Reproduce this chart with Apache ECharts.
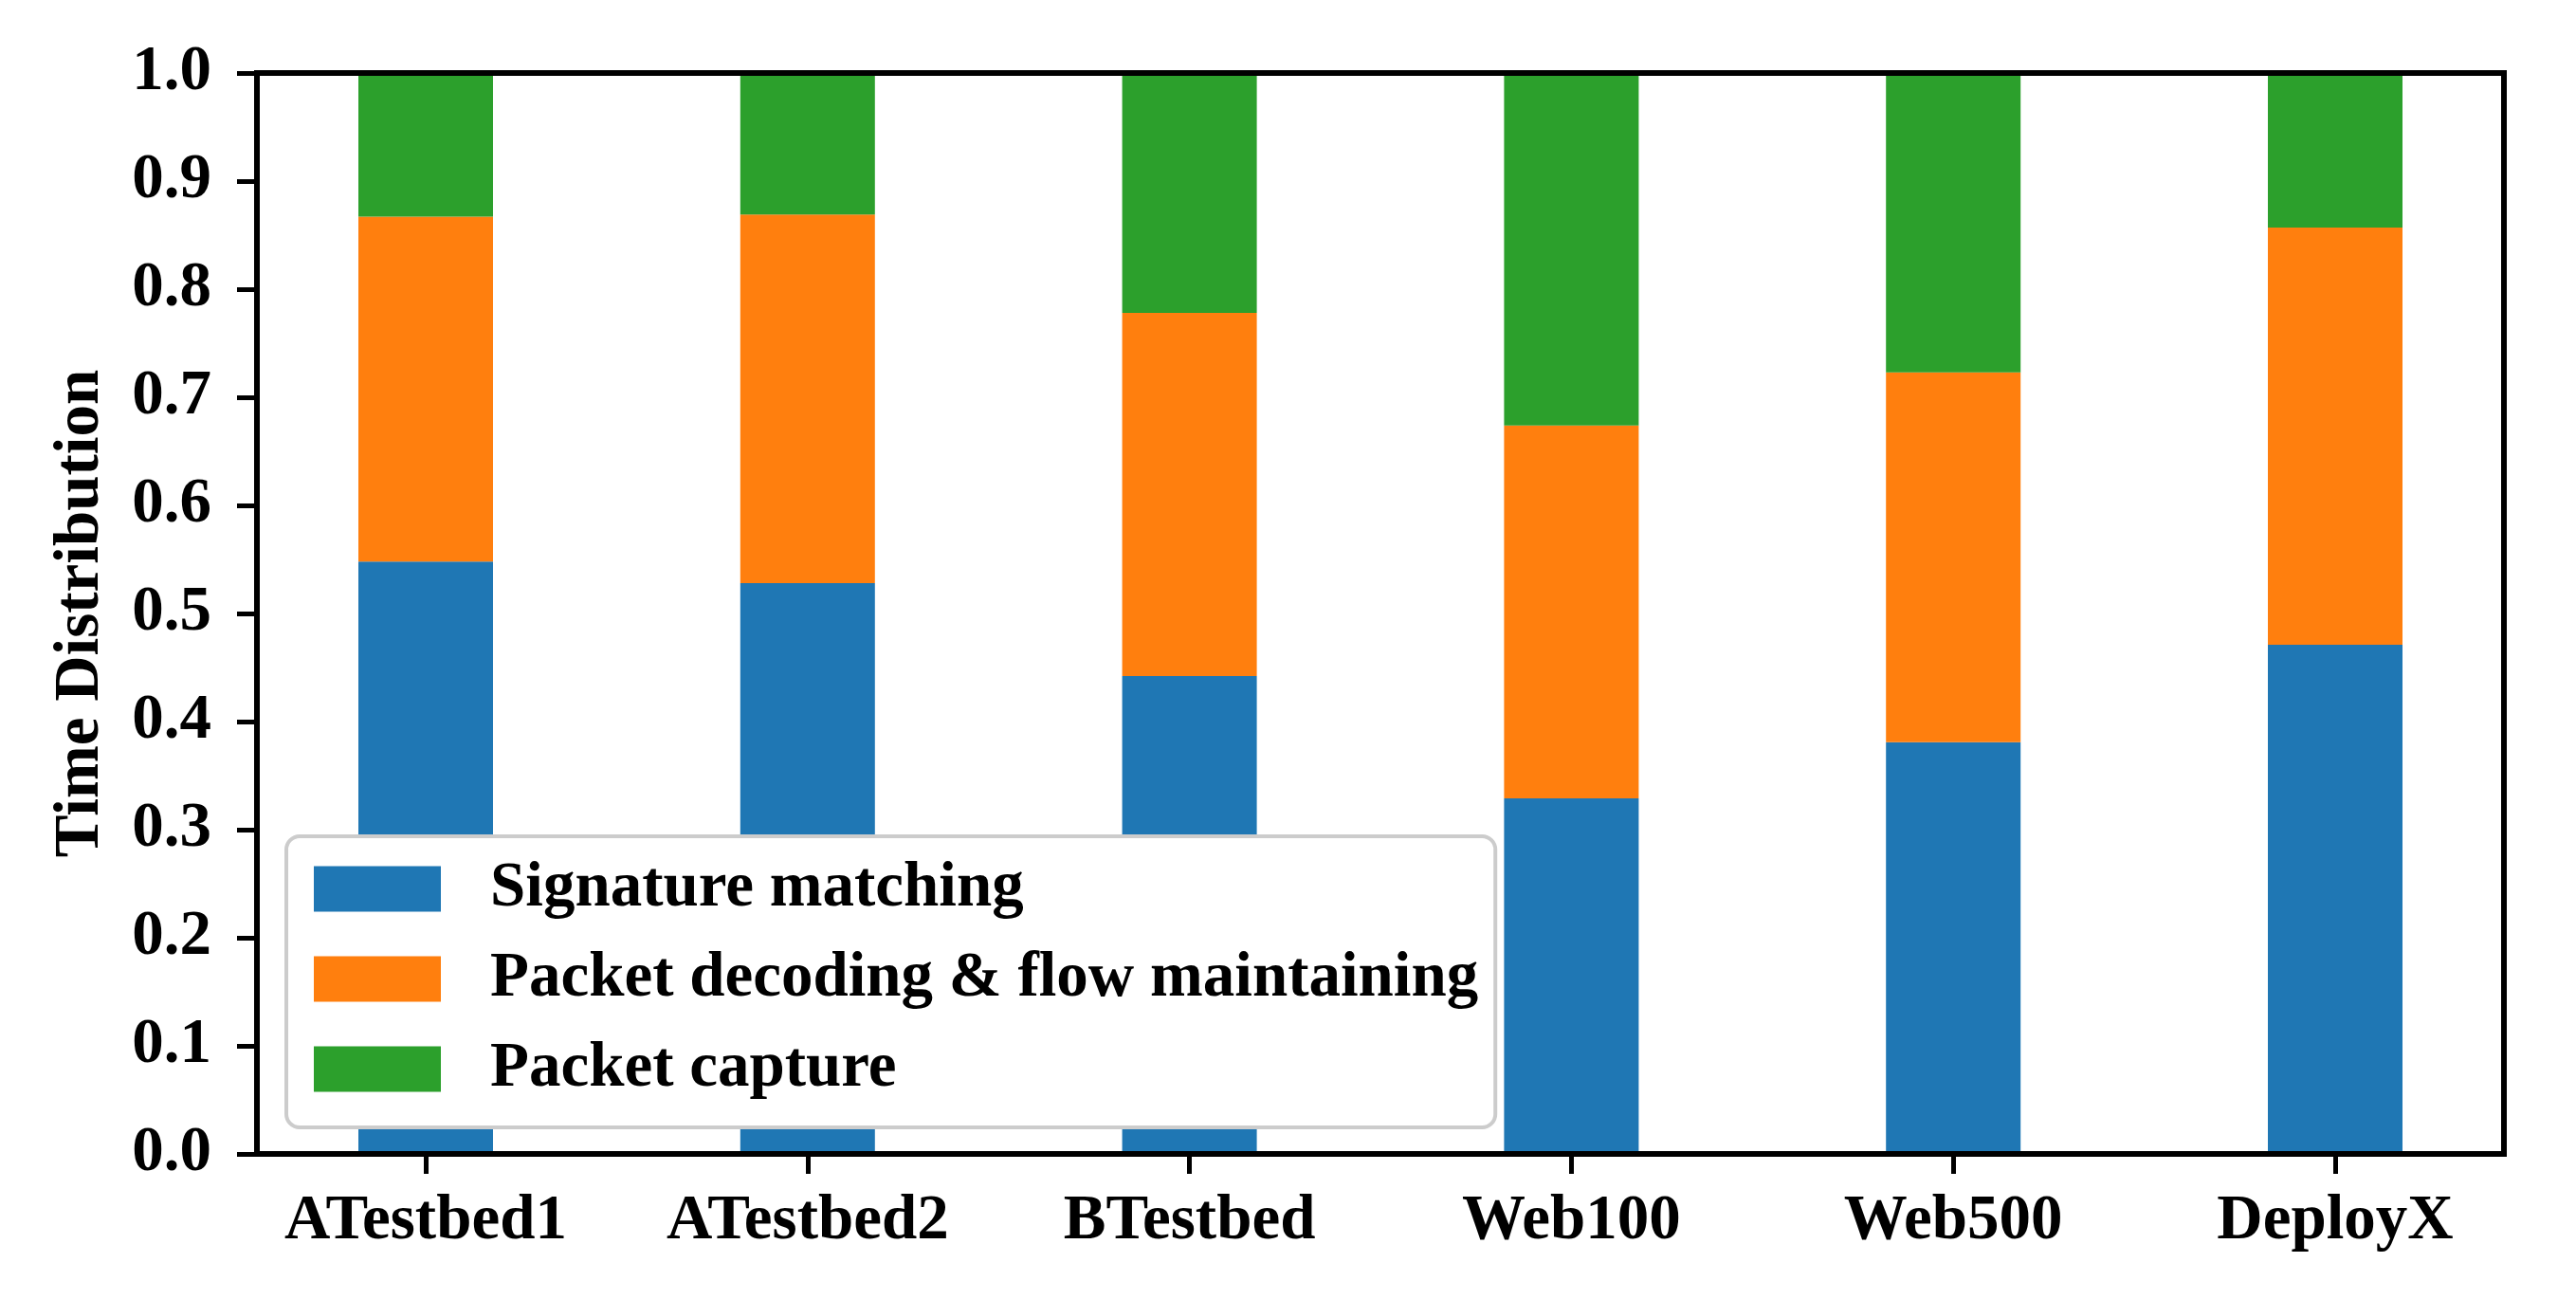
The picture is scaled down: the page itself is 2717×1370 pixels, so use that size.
<!DOCTYPE html>
<html>
<head>
<meta charset="utf-8">
<script src="https://cdn.jsdelivr.net/npm/echarts@6/dist/echarts.min.js"></script>
<style>
html,body{margin:0;padding:0;background:#fff;}
#chart{width:2717px;height:1370px;}
</style>
</head>
<body>
<div id="chart"></div>
<script>
const categories = ['ATestbed1', 'ATestbed2', 'BTestbed', 'Web100', 'Web500', 'DeployX'];
const signatureMatching = [0.548, 0.528, 0.442, 0.329, 0.381, 0.471];
const packetDecoding = [0.319, 0.341, 0.336, 0.345, 0.342, 0.386];
const packetCapture = [0.133, 0.131, 0.222, 0.326, 0.277, 0.143];
const yTicks = [0.0, 0.1, 0.2, 0.3, 0.4, 0.5, 0.6, 0.7, 0.8, 0.9, 1.0];
const seriesNames = ['Signature matching', 'Packet decoding & flow maintaining', 'Packet capture'];
const colors = ['#1f77b4', '#ff7f0e', '#2ca02c'];

const FONT = 'Liberation Serif';
const FS = 67;

const chart = echarts.init(document.getElementById('chart'), null, {renderer: 'canvas'});

const barSeries = [signatureMatching, packetDecoding, packetCapture].map((d, i) => ({
  name: seriesNames[i],
  type: 'bar',
  stack: 'total',
  xAxisIndex: 1,
  yAxisIndex: 1,
  barWidth: 142,
  itemStyle: {color: colors[i]},
  data: d,
  animation: false
}));

chart.setOption({
  animation: false,
  backgroundColor: '#ffffff',
  grid: [
    {left: 271, right: 76, top: 77, bottom: 153, show: true, borderColor: '#000', borderWidth: 6, backgroundColor: 'transparent', z: 10},
    {left: 247.6, right: 52.6, top: 77, bottom: 153}
  ],
  xAxis: [
    {type: 'value', gridIndex: 0, min: 0, max: 1, show: false},
    {
      type: 'category', gridIndex: 1, data: categories,
      axisLine: {show: false},
      axisTick: {show: true, alignWithLabel: true, length: 21, lineStyle: {color: '#000', width: 5}},
      axisLabel: {color: '#000', fontFamily: FONT, fontWeight: 'bold', fontSize: FS, margin: 38},
      splitLine: {show: false},
      z: 10
    }
  ],
  yAxis: [
    {
      type: 'value', gridIndex: 0, min: 0, max: 1, interval: 0.1,
      name: 'Time Distribution', nameLocation: 'middle', nameGap: 152,
      nameTextStyle: {color: '#000', fontFamily: FONT, fontWeight: 'bold', fontSize: FS},
      axisLine: {show: true, lineStyle: {color: '#000', width: 6}},
      axisTick: {show: true, length: 21, lineStyle: {color: '#000', width: 5}},
      axisLabel: {color: '#000', fontFamily: FONT, fontWeight: 'bold', fontSize: FS, margin: 48,
        formatter: v => { const t = yTicks.find(x => Math.abs(x - v) < 1e-9); return (t !== undefined ? t : v).toFixed(1); }},
      splitLine: {show: false},
      z: 10
    },
    {type: 'value', gridIndex: 1, min: 0, max: 1, show: false}
  ],
  legend: {
    orient: 'vertical',
    left: 302, top: 882,
    data: seriesNames,
    icon: 'rect',
    itemWidth: 134, itemHeight: 48, itemGap: 28,
    padding: [22, 18, 28, 29],
    backgroundColor: '#ffffff',
    borderColor: '#cccccc', borderWidth: 4, borderRadius: 14,
    textStyle: {color: '#000', fontFamily: FONT, fontWeight: 'bold', fontSize: FS, padding: [0, 0, 0, 47]},
    z: 20
  },
  series: barSeries
});
</script>
</body>
</html>
